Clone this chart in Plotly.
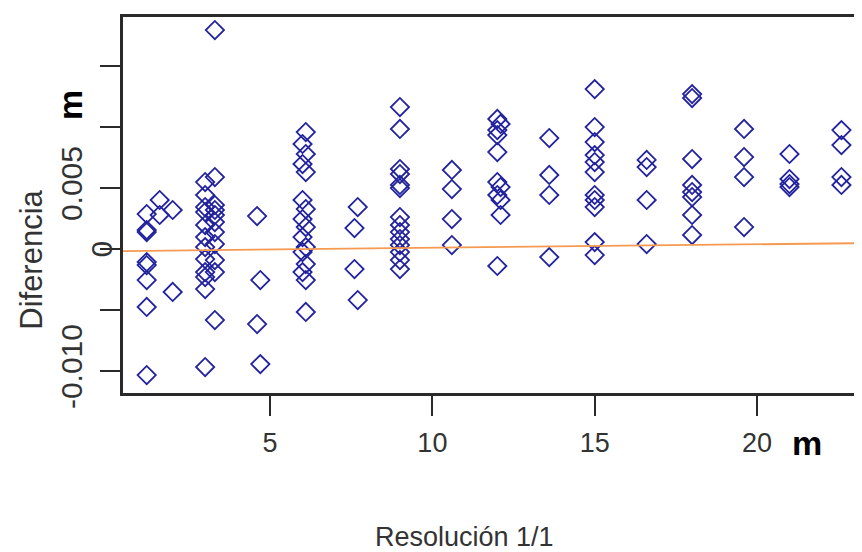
import plotly.graph_objects as go

# ---- data ----
resolucion = (
    [1.2] * 8 + [1.6] * 2 + [2.0] * 2 + [3.0] * 12 + [3.3] * 11
    + [4.6, 4.6, 4.7, 4.7]
    + [6.1, 6.0, 6.1, 6.0, 6.1, 6.0, 6.1, 6.0, 6.1, 6.0, 6.1, 6.0, 6.1, 6.0, 6.1, 6.1]
    + [7.7, 7.7, 7.6, 7.6]
    + [9.0] * 14 + [10.6] * 4
    + [12.0, 12.1, 12.0, 12.0, 12.0, 12.0, 12.1, 12.0, 12.1, 12.1, 12.0]
    + [13.6] * 4 + [15.0] * 11 + [16.6] * 4 + [18.0] * 8 + [19.6] * 4
    + [21.0] * 4 + [22.6] * 4
)
diferencia = (
    [0.00287, 0.00156, 0.00139, -0.00107, -0.00131, -0.00254, -0.00475, -0.01033]
    + [0.00402, 0.00279]
    + [0.00320, -0.00352]
    + [0.00549, 0.00443, 0.00344, 0.00303, 0.00197, 0.00098, 0.00016, -0.00082,
       -0.00189, -0.00230, -0.00328, -0.00967]
    + [0.01795, 0.00590, 0.00361, 0.00320, 0.00279, 0.00221, 0.00139, 0.00041,
       -0.00090, -0.00189, -0.00582]
    + [0.00270, -0.00615, -0.00254, -0.00943]
    + [0.00959, 0.00861, 0.00779, 0.00697, 0.00631, 0.00402, 0.00328, 0.00246,
       0.00180, 0.00098, 0.00016, -0.00025, -0.00123, -0.00189, -0.00254, -0.00516]
    + [0.00344, -0.00418, 0.00172, -0.00164]
    + [0.01164, 0.00984, 0.00656, 0.00615, 0.00525, 0.00500, 0.00262, 0.00197,
       0.00139, 0.00082, 0.00033, -0.00025, -0.00090, -0.00164]
    + [0.00648, 0.00492, 0.00246, 0.00033]
    + [0.01066, 0.01025, 0.00975, 0.00934, 0.00795, 0.00549, 0.00508, 0.00443,
       0.00402, 0.00279, -0.00139]
    + [0.00910, 0.00607, 0.00443, -0.00066]
    + [0.01311, 0.01000, 0.00877, 0.00770, 0.00713, 0.00631, 0.00443, 0.00402,
       0.00344, 0.00057, -0.00049]
    + [0.00730, 0.00672, 0.00402, 0.00041]
    + [0.01270, 0.01238, 0.00738, 0.00525, 0.00467, 0.00426, 0.00279, 0.00115]
    + [0.00984, 0.00754, 0.00590, 0.00180]
    + [0.00779, 0.00574, 0.00533, 0.00508]
    + [0.00975, 0.00852, 0.00590, 0.00525]
)

fit_intercept = -0.00018
fit_slope = 2.85e-5

x_ticks = [5, 10, 15, 20]
x_tick_labels = ["5", "10", "15", "20"]
y_ticks = [-0.010, -0.005, 0.0, 0.005, 0.010, 0.015]
y_tick_labels = ["-0.010", "", "", "0.005", "", ""]

x_range = [0.47, 23.48]
y_range = [-0.01180, 0.01902]

fit_x = [x_range[0] - 1, x_range[1] + 1]
fit_y = [fit_intercept + fit_slope * v for v in fit_x]

fig = go.Figure()
fig.add_trace(go.Scatter(
    x=resolucion, y=diferencia, mode="markers",
    marker=dict(symbol="diamond-open", size=14, color="#23239e",
                line=dict(width=1.8, color="#23239e")),
    showlegend=False, cliponaxis=False,
))
fig.add_trace(go.Scatter(
    x=fit_x, y=fit_y, mode="lines",
    line=dict(color="#f59a50", width=1.8),
    showlegend=False,
))

axis_color = "#2a2a2a"
txt_color = "#333333"
fig.update_layout(
    width=862, height=552,
    margin=dict(l=115, r=0, t=9, b=167),
    paper_bgcolor="white", plot_bgcolor="white",
    font=dict(family="Liberation Sans, Arial, sans-serif", color=txt_color),
    xaxis=dict(
        range=x_range, tickvals=x_ticks, ticktext=x_tick_labels,
        showgrid=False, zeroline=False,
        showline=True, linecolor=axis_color, linewidth=2.5, mirror=True,
        ticks="outside", ticklen=20, tickwidth=2, tickcolor=axis_color,
        ticklabelstandoff=4,
        tickfont=dict(family="Liberation Sans, sans-serif", size=27, color=txt_color),
    ),
    yaxis=dict(
        range=y_range, tickvals=y_ticks, ticktext=y_tick_labels,
        showgrid=False, zeroline=False,
        showline=True, linecolor=axis_color, linewidth=2.5,
        ticks="outside", ticklen=20, tickwidth=2, tickcolor=axis_color,
        tickangle=-90, ticklabelstandoff=6,
        tickfont=dict(family="Liberation Sans, Arial, sans-serif", size=30, color=txt_color),
    ),
    annotations=[
        dict(text="Diferencia", x=-0.122, xref="paper", y=0.354, yref="paper",
             showarrow=False, textangle=-90,
             font=dict(family="Liberation Sans, Arial, sans-serif", size=31, color=txt_color),
             xanchor="center", yanchor="middle"),
        dict(text="0", x=-0.029, xref="paper", y=0.0, yref="y", showarrow=False,
             textangle=-90, font=dict(family="Liberation Sans, Arial, sans-serif",
                                      size=30, color=txt_color),
             xanchor="center", yanchor="middle"),
        dict(text="<b>m</b>", x=-0.071, xref="paper", y=0.0118, yref="y",
             showarrow=False, textangle=-90,
             font=dict(family="Liberation Sans, Arial, sans-serif", size=34, color="black"),
             xanchor="center", yanchor="middle"),
        dict(text="<b>m</b>", x=21.55, xref="x", y=-0.133, yref="paper",
             showarrow=False,
             font=dict(family="Liberation Sans, Arial, sans-serif", size=34, color="black"),
             xanchor="center", yanchor="middle"),
        dict(text="Resolución 1/1", x=0.457, xref="paper", y=-0.383, yref="paper",
             showarrow=False,
             font=dict(family="Liberation Sans, sans-serif", size=27, color=txt_color),
             xanchor="center", yanchor="middle"),
    ],
)

fig.write_html("out.html")
